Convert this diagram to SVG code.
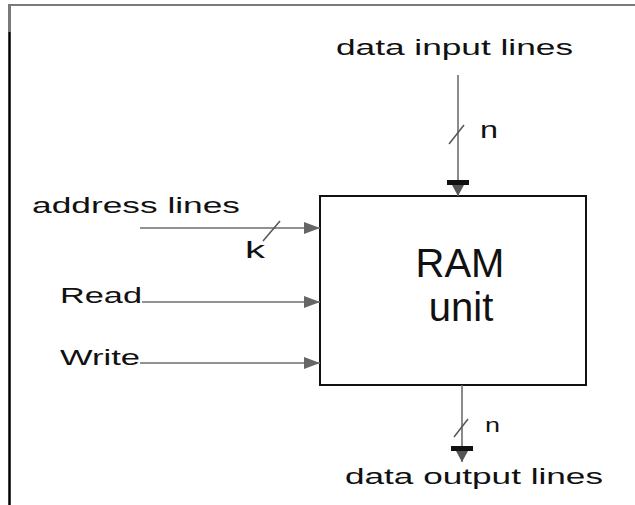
<svg xmlns="http://www.w3.org/2000/svg" width="635" height="505" viewBox="0 0 635 505">
  <style>
    .lbl { font-family: "Liberation Sans", Arial, sans-serif; fill: #111; }
    .wire { stroke: #6e6e6e; stroke-width: 1.6; fill: none; }
    .slash { stroke: #555; stroke-width: 1.5; }
  </style>
  <defs>
    <marker id="arr" viewBox="0 0 16 12" refX="16" refY="6" markerWidth="16" markerHeight="12" markerUnits="userSpaceOnUse" orient="auto">
      <path d="M0,0 L16,6 L0,12 Z" fill="#666"/>
    </marker>
    <marker id="arrb" viewBox="0 0 16 22" refX="16" refY="11" markerWidth="16" markerHeight="22" markerUnits="userSpaceOnUse" orient="auto">
      <rect x="0" y="0" width="5" height="22" fill="#111"/>
      <path d="M5,5 L16,11 L5,17 Z" fill="#555"/>
    </marker>
  </defs>
  <rect width="635" height="505" fill="#fff"/>
  <g id="frame">
    <line x1="8" y1="5" x2="635" y2="5" stroke="#7a7a7a" stroke-width="2"/>
    <line x1="9.5" y1="5" x2="9.5" y2="32" stroke="#7a7a7a" stroke-width="3"/>
    <line x1="9.5" y1="32" x2="9.5" y2="505" stroke="#000" stroke-width="2.5"/>
  </g>
  <g id="ram">
    <rect x="320" y="196" width="266" height="189" fill="#fff" stroke="#111" stroke-width="2"/>
    <text class="lbl" x="460" y="277" font-size="40" text-anchor="middle" fill="#333">RAM</text>
    <text class="lbl" x="461" y="321" font-size="40" text-anchor="middle" fill="#333">unit</text>
  </g>
  <g id="data-input">
    <text class="lbl" x="336" y="55" font-size="22" textLength="237" lengthAdjust="spacingAndGlyphs">data input lines</text>
    <text class="lbl" x="480" y="138" font-size="24" textLength="18" lengthAdjust="spacingAndGlyphs">n</text>
  </g>
  <g id="address">
    <text class="lbl" x="32" y="213" font-size="22" textLength="208" lengthAdjust="spacingAndGlyphs">address lines</text>
    <text class="lbl" x="245" y="258" font-size="24" textLength="20" lengthAdjust="spacingAndGlyphs">k</text>
  </g>
  <g id="read">
    <text class="lbl" x="60" y="303" font-size="22" textLength="82" lengthAdjust="spacingAndGlyphs">Read</text>
  </g>
  <g id="write">
    <text class="lbl" x="60" y="365" font-size="22" textLength="80" lengthAdjust="spacingAndGlyphs">Write</text>
  </g>
  <g id="data-output">
    <text class="lbl" x="345" y="484" font-size="22" textLength="258" lengthAdjust="spacingAndGlyphs">data output lines</text>
    <text class="lbl" x="485" y="432" font-size="20" textLength="15" lengthAdjust="spacingAndGlyphs">n</text>
  </g>
  <g id="connectors">
    <line class="wire" x1="458" y1="75" x2="458" y2="196" marker-end="url(#arrb)"/>
    <line class="slash" x1="449" y1="144" x2="464" y2="125"/>
    <line class="wire" x1="140" y1="228" x2="320" y2="228" marker-end="url(#arr)"/>
    <line class="slash" x1="263" y1="241" x2="280" y2="221"/>
    <line class="wire" x1="142" y1="302" x2="320" y2="302" marker-end="url(#arr)"/>
    <line class="wire" x1="140" y1="363" x2="320" y2="363" marker-end="url(#arr)"/>
    <line class="wire" x1="462" y1="385" x2="462" y2="462" marker-end="url(#arrb)"/>
    <line class="slash" x1="454" y1="437" x2="468" y2="419"/>
  </g>
</svg>
